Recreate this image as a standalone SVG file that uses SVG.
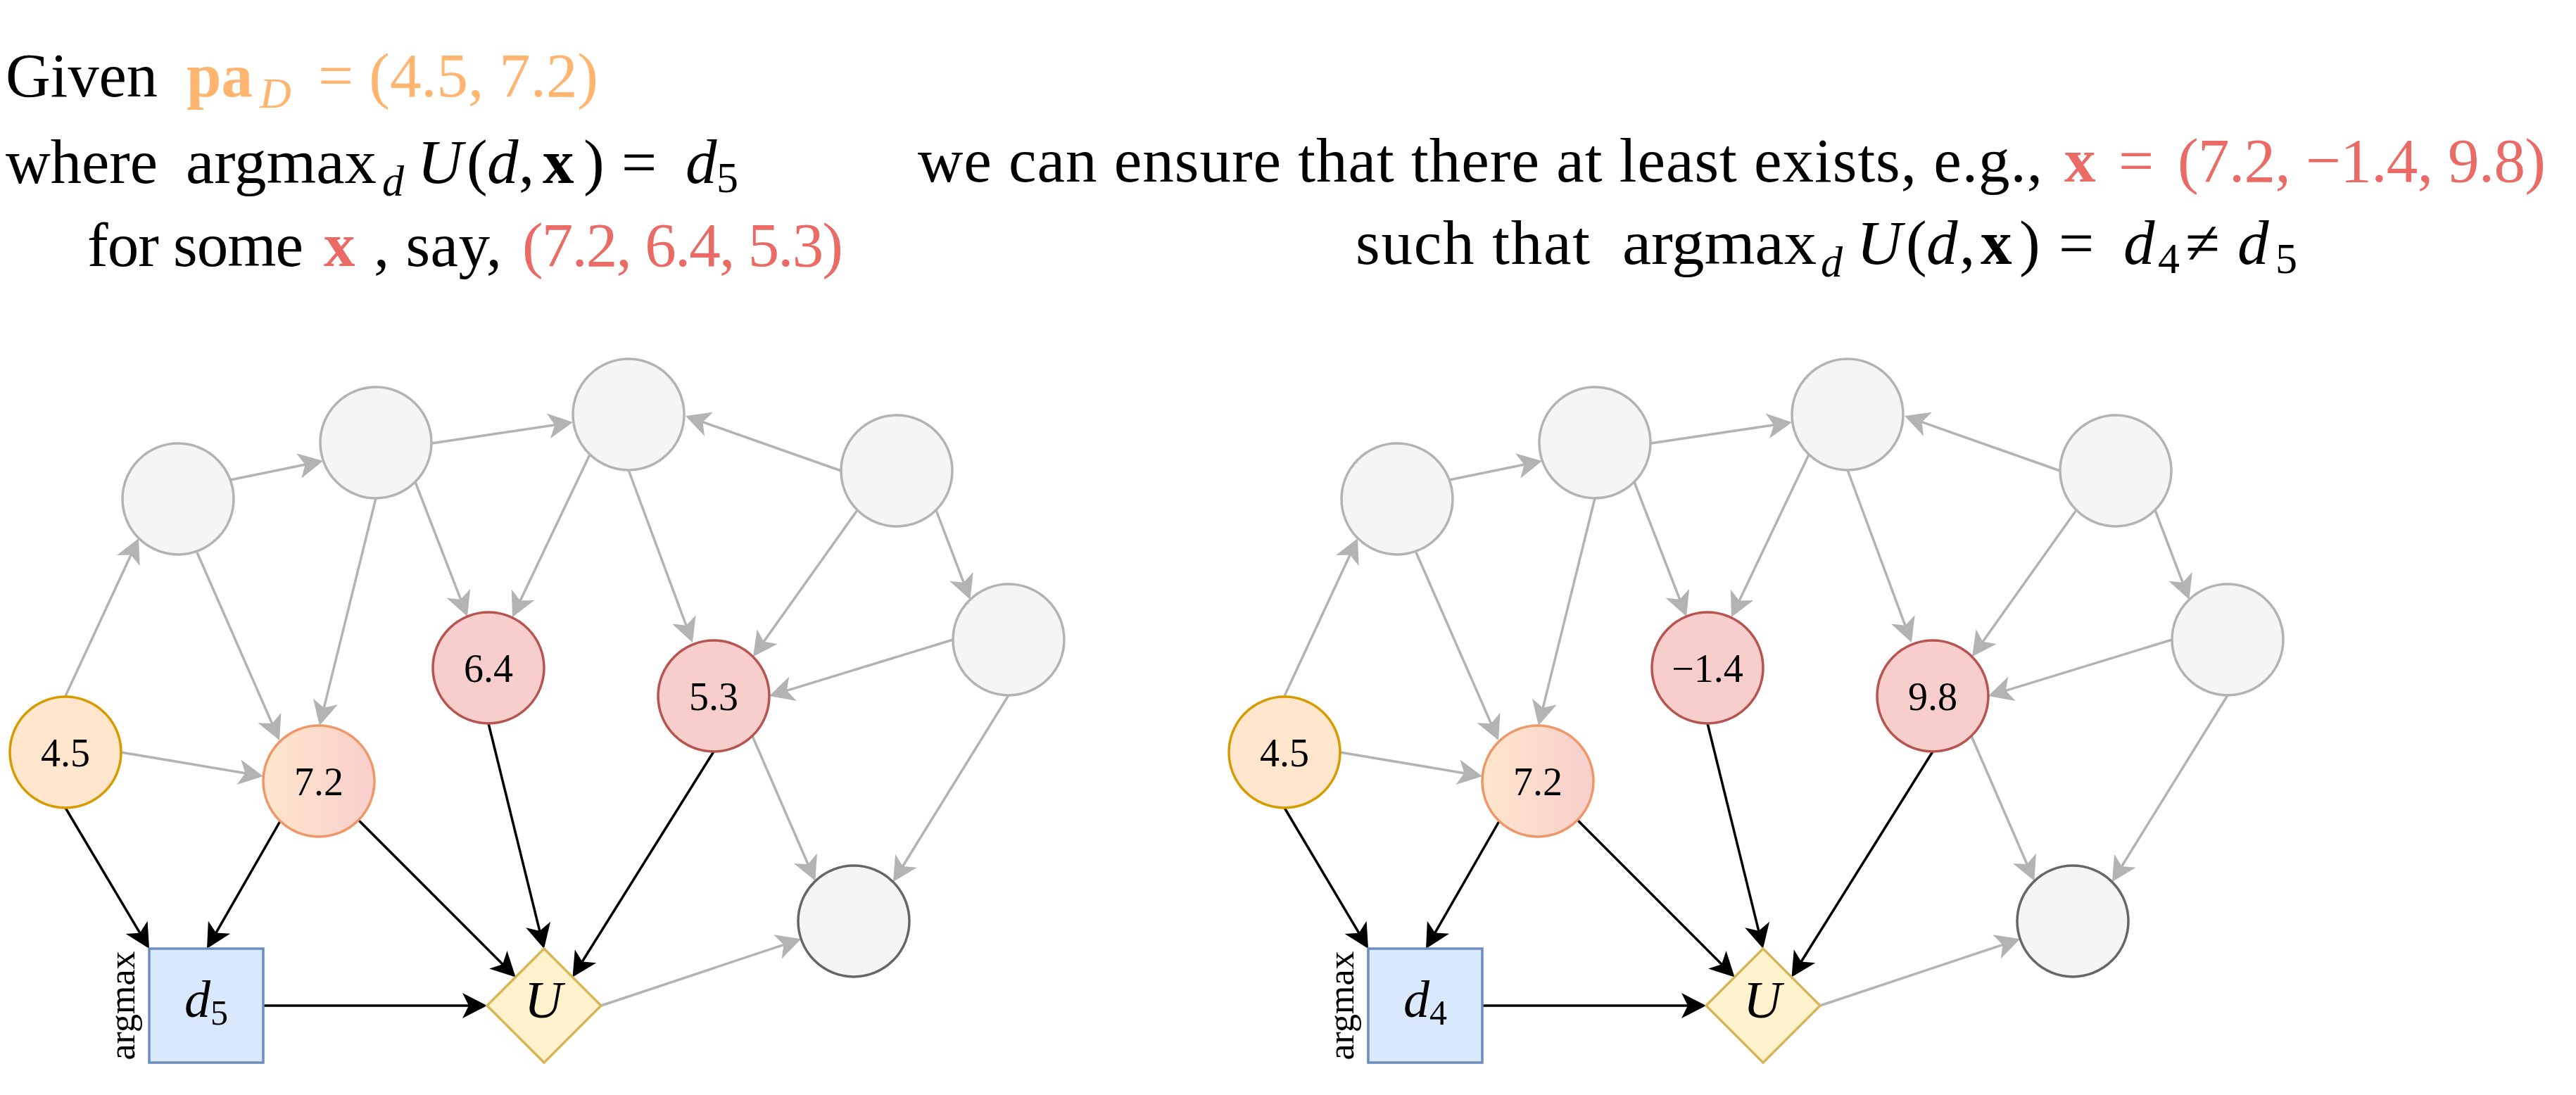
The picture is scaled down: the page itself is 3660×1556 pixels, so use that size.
<svg xmlns="http://www.w3.org/2000/svg" width="3660" height="1556" viewBox="0 0 3660 1556">
<style>
text{font-family:'Liberation Serif','DejaVu Serif',serif;fill:#000}
.cap{font-size:89px}
.sub{font-size:62px}
.it{font-style:italic}
.bf{font-weight:bold}
.or{fill:#FFB570}
.rd{fill:#EA6B66}
.gn{fill:#F5F5F5;stroke:#B3B3B3;stroke-width:3.5}
.gd{fill:#F5F5F5;stroke:#666666;stroke-width:3.5}
.pa{fill:#FFE6CC;stroke:#D79B00;stroke-width:3.5}
.mx{fill:url(#grad72);stroke:#EE9768;stroke-width:3.5}
.xv{fill:#F8CECC;stroke:#B85450;stroke-width:3.5}
.dn{fill:#DAE8FC;stroke:#6C8EBF;stroke-width:3.5}
.un{fill:#FFF2CC;stroke:#D6B656;stroke-width:3.5}
.lab{font-size:56px;text-anchor:middle}
.eg{stroke:#B3B3B3;stroke-width:3.5;fill:none;marker-end:url(#ag)}
.eb{stroke:#000;stroke-width:3.5;fill:none;marker-end:url(#ab)}
</style>
<defs>
<linearGradient id="grad72" x1="0" y1="0" x2="1" y2="0"><stop offset="0" stop-color="#FFE6CC"/><stop offset="1" stop-color="#F8CECC"/></linearGradient>
<marker id="ag" markerUnits="userSpaceOnUse" markerWidth="36" markerHeight="36" refX="15" refY="18" orient="auto" overflow="visible"><path d="M35,18 L0,0 L9,18 L0,36 Z" fill="#B3B3B3"/></marker>
<marker id="ab" markerUnits="userSpaceOnUse" markerWidth="36" markerHeight="36" refX="15" refY="18" orient="auto" overflow="visible"><path d="M35,18 L0,0 L9,18 L0,36 Z" fill="#000"/></marker>
</defs>

<g id="caption-left" class="cap">
<text class="cap" x="8" y="137" textLength="216" lengthAdjust="spacingAndGlyphs">Given</text>
<text class="cap bf or" x="265" y="137">pa</text>
<text class="sub it or" x="369" y="153">D</text>
<text class="cap or" x="452" y="137" textLength="398">= (4.5, 7.2)</text>
<text class="cap" x="8" y="260" textLength="216" lengthAdjust="spacingAndGlyphs">where</text>
<text class="cap" x="264" y="260" textLength="271" lengthAdjust="spacingAndGlyphs">argmax</text>
<text class="sub it" x="543" y="278">d</text>
<text class="cap it" x="593" y="260">U</text>
<text class="cap" x="663" y="260">(</text>
<text class="cap it" x="692" y="260">d</text>
<text class="cap" x="737" y="260">,</text>
<text class="cap bf" x="771" y="260">x</text>
<text class="cap" x="829" y="260">)</text>
<text class="cap" x="883" y="260">=</text>
<text class="cap it" x="974" y="260">d</text>
<text class="sub" x="1018" y="273">5</text>
<text class="cap" x="124" y="378" textLength="307">for some</text>
<text class="cap bf rd" x="460" y="378">x</text>
<text class="cap" x="531" y="378" textLength="182">, say,</text>
<text class="cap rd" x="742" y="378" textLength="456">(7.2, 6.4, 5.3)</text>
</g>

<g id="caption-right" class="cap">
<text class="cap" x="1304" y="258" textLength="1598">we can ensure that there at least exists, e.g.,</text>
<text class="cap bf rd" x="2933" y="258">x</text>
<text class="cap rd" x="3010" y="258">=</text>
<text class="cap rd" x="3094" y="258" textLength="523">(7.2, −1.4, 9.8)</text>
<text class="cap" x="1926" y="375" textLength="333">such that</text>
<text class="cap" x="2305" y="375" textLength="276" lengthAdjust="spacingAndGlyphs">argmax</text>
<text class="sub it" x="2587" y="393">d</text>
<text class="cap it" x="2638" y="375">U</text>
<text class="cap" x="2708" y="375">(</text>
<text class="cap it" x="2737" y="375">d</text>
<text class="cap" x="2784" y="375">,</text>
<text class="cap bf" x="2814" y="375">x</text>
<text class="cap" x="2869" y="375">)</text>
<text class="cap" x="2925" y="375">=</text>
<text class="cap it" x="3017" y="375">d</text>
<text class="sub" x="3066" y="388">4</text>
<text class="cap" x="3105" y="375">≠</text>
<text class="cap it" x="3179" y="375">d</text>
<text class="sub" x="3233" y="388">5</text>
</g>

<g id="connectors">
<line class="eg" x1="93" y1="989" x2="188.6" y2="783.1"/>
<line class="eg" x1="327" y1="682" x2="439.4" y2="659"/>
<line class="eg" x1="613" y1="630" x2="794.2" y2="603"/>
<line class="eg" x1="280" y1="785" x2="389" y2="1033.7"/>
<line class="eg" x1="534" y1="708" x2="458.8" y2="1011.6"/>
<line class="eg" x1="590" y1="685" x2="656.8" y2="857.3"/>
<line class="eg" x1="838" y1="646" x2="736.6" y2="858.9"/>
<line class="eg" x1="893" y1="668" x2="977" y2="894.3"/>
<line class="eg" x1="1195" y1="669" x2="992.9" y2="597.7"/>
<line class="eg" x1="1218" y1="725" x2="1081.6" y2="916.7"/>
<line class="eg" x1="1330" y1="725" x2="1371.3" y2="833.3"/>
<line class="eg" x1="1354" y1="909" x2="1112.1" y2="983.1"/>
<line class="eg" x1="172" y1="1069" x2="354.3" y2="1099.7"/>
<line class="eg" x1="1069" y1="1046" x2="1150.4" y2="1233.5"/>
<line class="eg" x1="1433" y1="988" x2="1279.5" y2="1236"/>
<line class="eg" x1="854" y1="1429" x2="1119.2" y2="1340.6"/>
<line class="eb" x1="93" y1="1148" x2="201.8" y2="1330.8"/>
<line class="eb" x1="398" y1="1167" x2="304" y2="1330.7"/>
<line class="eb" x1="510" y1="1166" x2="718.4" y2="1374.4"/>
<line class="eb" x1="694" y1="1028" x2="768.2" y2="1328.6"/>
<line class="eb" x1="1014" y1="1068" x2="824.1" y2="1371.5"/>
<line class="eb" x1="374" y1="1429" x2="672" y2="1429"/>

<line class="eg" x1="1825" y1="989" x2="1920.6" y2="783.1"/>
<line class="eg" x1="2059" y1="682" x2="2171.4" y2="659"/>
<line class="eg" x1="2345" y1="630" x2="2526.2" y2="603"/>
<line class="eg" x1="2012" y1="785" x2="2121" y2="1033.7"/>
<line class="eg" x1="2266" y1="708" x2="2190.8" y2="1011.6"/>
<line class="eg" x1="2322" y1="685" x2="2388.8" y2="857.3"/>
<line class="eg" x1="2570" y1="646" x2="2468.6" y2="858.9"/>
<line class="eg" x1="2625" y1="668" x2="2709" y2="894.3"/>
<line class="eg" x1="2927" y1="669" x2="2724.9" y2="597.7"/>
<line class="eg" x1="2950" y1="725" x2="2813.6" y2="916.7"/>
<line class="eg" x1="3062" y1="725" x2="3103.3" y2="833.3"/>
<line class="eg" x1="3086" y1="909" x2="2844.1" y2="983.1"/>
<line class="eg" x1="1904" y1="1069" x2="2086.3" y2="1099.7"/>
<line class="eg" x1="2801" y1="1046" x2="2882.4" y2="1233.5"/>
<line class="eg" x1="3165" y1="988" x2="3011.5" y2="1236"/>
<line class="eg" x1="2586" y1="1429" x2="2851.2" y2="1340.6"/>
<line class="eb" x1="1825" y1="1148" x2="1933.8" y2="1330.8"/>
<line class="eb" x1="2130" y1="1167" x2="2036" y2="1330.7"/>
<line class="eb" x1="2242" y1="1166" x2="2450.4" y2="1374.4"/>
<line class="eb" x1="2426" y1="1028" x2="2500.2" y2="1328.6"/>
<line class="eb" x1="2746" y1="1068" x2="2556.1" y2="1371.5"/>
<line class="eb" x1="2106" y1="1429" x2="2404" y2="1429"/>
</g>

<g id="L-A"><circle class="gn" cx="253" cy="709" r="79"/></g>
<g id="L-B"><circle class="gn" cx="534" cy="629" r="79"/></g>
<g id="L-C"><circle class="gn" cx="893" cy="589" r="79"/></g>
<g id="L-D"><circle class="gn" cx="1274" cy="669" r="79"/></g>
<g id="L-E"><circle class="gn" cx="1433" cy="909" r="79"/></g>
<g id="L-F"><circle class="gd" cx="1213" cy="1309" r="79"/></g>
<g id="L-pa45"><circle class="pa" cx="93" cy="1069" r="79"/><text class="lab" x="93" y="1089">4.5</text></g>
<g id="L-pa72"><circle class="mx" cx="453" cy="1110" r="79"/><text class="lab" x="453" y="1130">7.2</text></g>
<g id="L-x64"><circle class="xv" cx="694" cy="949" r="79"/><text class="lab" x="694" y="969">6.4</text></g>
<g id="L-x53"><circle class="xv" cx="1014" cy="989" r="79"/><text class="lab" x="1014" y="1009">5.3</text></g>
<g id="L-dec"><rect class="dn" x="212" y="1348" width="162" height="162"/><text x="293" y="1445" text-anchor="middle"><tspan class="it" font-size="74">d</tspan><tspan font-size="50" dy="11">5</tspan></text><text transform="translate(191,1429) rotate(-90)" text-anchor="middle" font-size="52">argmax</text></g>
<g id="L-U"><polygon class="un" points="773,1348 854,1429 773,1510 692,1429"/><text class="it" x="772" y="1446" text-anchor="middle" font-size="75">U</text></g>

<g id="R-A"><circle class="gn" cx="1985" cy="709" r="79"/></g>
<g id="R-B"><circle class="gn" cx="2266" cy="629" r="79"/></g>
<g id="R-C"><circle class="gn" cx="2625" cy="589" r="79"/></g>
<g id="R-D"><circle class="gn" cx="3006" cy="669" r="79"/></g>
<g id="R-E"><circle class="gn" cx="3165" cy="909" r="79"/></g>
<g id="R-F"><circle class="gd" cx="2945" cy="1309" r="79"/></g>
<g id="R-pa45"><circle class="pa" cx="1825" cy="1069" r="79"/><text class="lab" x="1825" y="1089">4.5</text></g>
<g id="R-pa72"><circle class="mx" cx="2185" cy="1110" r="79"/><text class="lab" x="2185" y="1130">7.2</text></g>
<g id="R-x14"><circle class="xv" cx="2426" cy="949" r="79"/><text class="lab" x="2426" y="969">−1.4</text></g>
<g id="R-x98"><circle class="xv" cx="2746" cy="989" r="79"/><text class="lab" x="2746" y="1009">9.8</text></g>
<g id="R-dec"><rect class="dn" x="1944" y="1348" width="162" height="162"/><text x="2025" y="1445" text-anchor="middle"><tspan class="it" font-size="74">d</tspan><tspan font-size="50" dy="11">4</tspan></text><text transform="translate(1923,1429) rotate(-90)" text-anchor="middle" font-size="52">argmax</text></g>
<g id="R-U"><polygon class="un" points="2505,1348 2586,1429 2505,1510 2424,1429"/><text class="it" x="2504" y="1446" text-anchor="middle" font-size="75">U</text></g>
</svg>
